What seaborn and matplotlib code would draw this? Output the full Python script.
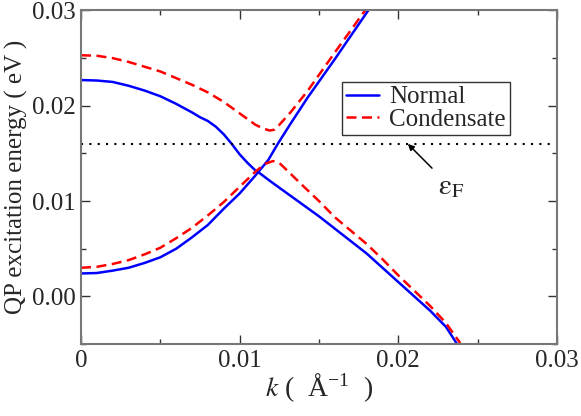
import matplotlib
matplotlib.use("Agg")
import matplotlib.pyplot as plt
import seaborn as sns
import pandas as pd

# Normal: two bands that cross
normal_a_k = [0.0, 0.001, 0.002, 0.003, 0.004, 0.005, 0.006, 0.007, 0.0075, 0.0080, 0.0085,
              0.0090, 0.0095, 0.0100, 0.0105, 0.0110, 0.0112, 0.0120, 0.0130, 0.0140, 0.0150,
              0.0160, 0.0170, 0.0180, 0.0190, 0.0200, 0.0210, 0.0220, 0.0230, 0.0237]
normal_a_e = [0.0227, 0.02265, 0.0225, 0.0221, 0.0216, 0.0210, 0.0202, 0.0193, 0.0188, 0.0184,
              0.0178, 0.0170, 0.0160, 0.0149, 0.0140, 0.0132, 0.0130, 0.0120, 0.0108, 0.0096,
              0.0084, 0.0071, 0.0058, 0.0045, 0.0030, 0.0015, 0.0000, -0.0015, -0.0032, -0.0050]
normal_b_k = [0.0, 0.001, 0.002, 0.003, 0.004, 0.005, 0.006, 0.007, 0.008, 0.009, 0.010,
              0.011, 0.0118, 0.0124, 0.0132, 0.0143, 0.0160, 0.0181]
normal_b_e = [0.0024, 0.00245, 0.0027, 0.0030, 0.0035, 0.0041, 0.0050, 0.0062, 0.0075, 0.0092,
              0.0108, 0.0127, 0.0143, 0.0160, 0.0181, 0.0209, 0.0249, 0.0300]

# Condensate: avoided crossing
cond_a_k = [0.0, 0.001, 0.002, 0.003, 0.004, 0.005, 0.006, 0.007, 0.008, 0.009, 0.010,
            0.011, 0.0115, 0.0119, 0.0122, 0.0125, 0.0132, 0.0143, 0.0160, 0.0179]
cond_a_e = [0.0253, 0.02525, 0.0250, 0.0246, 0.0241, 0.0236, 0.0229, 0.0222, 0.0214, 0.0204,
            0.0192, 0.0180, 0.0176, 0.0174, 0.0175, 0.0180, 0.0193, 0.0216, 0.0256, 0.0300]
cond_b_k = [0.0, 0.001, 0.002, 0.003, 0.004, 0.005, 0.006, 0.007, 0.008, 0.009, 0.010,
            0.011, 0.0116, 0.0121, 0.0125, 0.0130, 0.0138, 0.0150, 0.0160, 0.0170, 0.0180,
            0.0190, 0.0200, 0.0210, 0.0220, 0.0230, 0.0239]
cond_b_e = [0.0030, 0.0031, 0.0034, 0.0038, 0.0044, 0.0051, 0.0061, 0.0072, 0.0085, 0.0099,
            0.0115, 0.0131, 0.0139, 0.0142, 0.0140, 0.0132, 0.0119, 0.0100, 0.0083, 0.0069,
            0.0055, 0.0039, 0.0022, 0.0006, -0.0010, -0.0028, -0.0049]

fermi_level = 0.016
x_ticks = [0, 0.01, 0.02, 0.03]
x_tick_labels = ["0", "0.01", "0.02", "0.03"]
y_ticks = [0.0, 0.01, 0.02, 0.03]
y_tick_labels = ["0.00", "0.01", "0.02", "0.03"]

sns.set_style("ticks")
plt.rcParams["font.family"] = ["Liberation Serif", "DejaVu Serif"]
plt.rcParams["mathtext.fontset"] = "stix"

fig = plt.figure(figsize=(5.81, 4.16), dpi=100)
ax = fig.add_axes([0.1394, 0.1731, 0.8193, 0.8017])

curves = [
    (normal_a_k, normal_a_e, "#0000ff", "-", "Normal"),
    (normal_b_k, normal_b_e, "#0000ff", "-", None),
    (cond_a_k, cond_a_e, "#ff0000", (0, (4, 2.2)), "Condensate"),
    (cond_b_k, cond_b_e, "#ff0000", (0, (4, 2.2)), None),
]
for k, e, color, ls, label in curves:
    df = pd.DataFrame({"k": k, "E": e})
    sns.lineplot(data=df, x="k", y="E", color=color, linestyle=ls, linewidth=1.8,
                 sort=False, estimator=None, label=label, ax=ax, legend=False)

ax.axhline(fermi_level, color="black", linestyle=(0, (1, 3)), linewidth=1.5)

ax.annotate(r"$\mathrm{\varepsilon}_\mathrm{F}$", xy=(0.0206, fermi_level),
            xytext=(0.0225, 0.0107), fontsize=21,
            arrowprops=dict(arrowstyle="-|>", color="black", lw=1.1,
                            mutation_scale=9, shrinkA=3, shrinkB=0))

ax.set_xlim(0, 0.03)
ax.set_ylim(-0.005, 0.03)
ax.set_xticks(x_ticks)
ax.set_xticklabels(x_tick_labels)
ax.set_yticks(y_ticks)
ax.set_yticklabels(y_tick_labels)
ax.set_xticks([0.005, 0.015, 0.025], minor=True)
ax.set_yticks([-0.005, 0.005, 0.015, 0.025], minor=True)
ax.tick_params(which="both", direction="in", top=True, right=True, labelsize=18,
               color="#333333")
ax.tick_params(which="major", length=6.5, width=1, pad=4)
ax.tick_params(which="minor", length=3.5, width=1)
for s in ax.spines.values():
    s.set_color("#777777")
    s.set_linewidth(1.5)

ax.set_xlabel(r"$k$ (  Å$^{\mathregular{-1}}$  )", fontsize=20, labelpad=0)
ax.set_ylabel("QP excitation energy ( eV )", fontsize=18, labelpad=3)

leg = ax.legend(loc="upper left", bbox_to_anchor=(0.548, 0.785), fontsize=18,
                frameon=True, fancybox=False, handlelength=1.35, borderpad=0.15,
                labelspacing=0.0, handletextpad=0.4, borderaxespad=0)
leg.get_frame().set_edgecolor("black")
leg.get_frame().set_linewidth(1.0)

fig.savefig("out.png", dpi=100)
